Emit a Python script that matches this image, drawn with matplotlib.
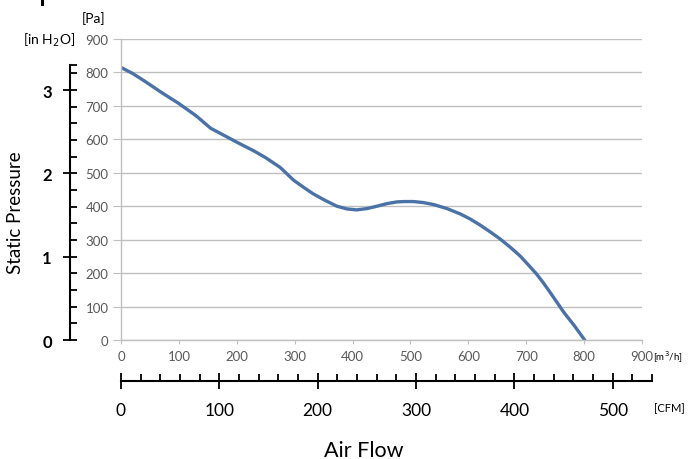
import matplotlib
matplotlib.use("Agg")
import matplotlib.pyplot as plt
from matplotlib.ticker import MultipleLocator, FixedLocator
from matplotlib.lines import Line2D

plt.rcParams['font.family'] = ['Lato', 'DejaVu Sans']

# Data: air flow [m3/h] vs static pressure [Pa]
flow_m3h = [0, 20, 40, 70, 100, 130, 155, 180, 205, 230, 250, 275, 298, 315, 332,
            352, 373, 390, 407, 425, 442, 460, 477, 490, 505, 522, 540, 563, 586,
            603, 620, 638, 655, 672, 689, 704, 718, 730, 741, 753, 764, 783, 801]
pressure_pa = [815, 797, 775, 740, 707, 670, 633, 610, 587, 565, 545, 516, 478, 457, 437,
               418, 400, 392, 389, 393, 400, 408, 413, 414, 414, 411, 405, 393, 377,
               362, 344, 323, 302, 278, 252, 224, 197, 170, 143, 113, 85, 43, 0]

pa_ticks = list(range(0, 1000, 100))
m3h_ticks = list(range(0, 1000, 100))
h2o_major = [0, 1, 2, 3]
cfm_major = [0, 100, 200, 300, 400, 500]

PA_PER_INH2O = 249.089
M3H_PER_CFM = 1.699

W, H = 689, 460
fig = plt.figure(figsize=(W / 100, H / 100), dpi=100)

# main axes (pixel geometry)
x0, x1 = 121, 642
y0, y1 = 341, 40
ax = fig.add_axes([x0 / W, 1 - y0 / H, (x1 - x0) / W, (y0 - y1) / H])
ax.set_xlim(0, 900)
ax.set_ylim(0, 900)
grid_c = '#bfbfbf'
for s in ['top', 'right']:
    ax.spines[s].set_visible(False)
for s in ['left', 'bottom']:
    ax.spines[s].set_color(grid_c)
    ax.spines[s].set_linewidth(1.0)
ax.set_yticks(pa_ticks)
ax.set_xticks(m3h_ticks)
ax.yaxis.grid(True, color=grid_c, linewidth=1.0)
ax.set_axisbelow(True)
ax.tick_params(axis='y', direction='out', length=6, color=grid_c, labelsize=9.5,
               labelcolor='#595959', pad=3)
ax.tick_params(axis='x', direction='out', length=3, color=grid_c, labelsize=9.5,
               labelcolor='#595959', pad=4)
ax.plot(flow_m3h, pressure_pa, color='#4a72a6', linewidth=2.4,
        solid_capstyle='round', solid_joinstyle='round')

# secondary left axis: inches of water
axh = fig.add_axes([70 / W, 1 - y0 / H, 0.01, (y0 - y1) / H])
axh.patch.set_visible(False)
axh.set_ylim(0, 900 / PA_PER_INH2O)
for s in ['top', 'right', 'bottom']:
    axh.spines[s].set_visible(False)
axh.spines['left'].set_bounds(0, 3.3)
axh.spines['left'].set_linewidth(1.5)
axh.set_xticks([])
axh.yaxis.set_major_locator(FixedLocator(h2o_major))
axh.yaxis.set_minor_locator(FixedLocator([v / 5 for v in range(0, 17)] + [3.3]))
axh.tick_params(axis='y', which='major', direction='inout', length=10, width=1.3,
                labelsize=12, pad=8)
axh.tick_params(axis='y', which='minor', direction='in', length=5, width=1.3)
for lab in axh.get_yticklabels():
    lab.set_fontweight('bold')

# secondary bottom axis: CFM
cfm_max = 540
cfm_px = cfm_max * M3H_PER_CFM * (x1 - x0) / 900
axc = fig.add_axes([x0 / W, 1 - 382 / H, cfm_px / W, 0.001])
axc.patch.set_visible(False)
axc.set_xlim(0, cfm_max)
for s in ['top', 'right', 'left']:
    axc.spines[s].set_visible(False)
axc.spines['bottom'].set_linewidth(1.5)
axc.set_yticks([])
axc.xaxis.set_major_locator(FixedLocator(cfm_major))
axc.xaxis.set_minor_locator(MultipleLocator(20))
axc.tick_params(axis='x', which='major', direction='inout', length=12, width=1.3,
                labelsize=12.5, pad=9)
axc.tick_params(axis='x', which='minor', direction='in', length=5, width=1.3)

# labels
fig.text(16 / W, 1 - 213 / H, 'Static Pressure', rotation=90, ha='center', va='center',
         fontsize=13.5)
fig.text(364 / W, 1 - 457 / H, 'Air Flow', ha='center', va='baseline', fontsize=15.5)
fig.text(94 / W, 1 - 19 / H, '[Pa]', ha='center', va='center', fontsize=10)
fig.text(49 / W, 1 - 40 / H, '[in H$_2$O]', ha='center', va='center', fontsize=10)
fig.text(653 / W, 1 - 357 / H, '[m$^3$/h]', ha='left', va='center', fontsize=7)
fig.text(654 / W, 1 - 409 / H, '[CFM]', ha='left', va='center', fontsize=8)

# small cropped mark at top-left
fig.add_artist(Line2D([42 / W, 42 / W], [1, 1 - 5 / H], color='black', linewidth=2.2))

fig.savefig('out.png', dpi=100)
